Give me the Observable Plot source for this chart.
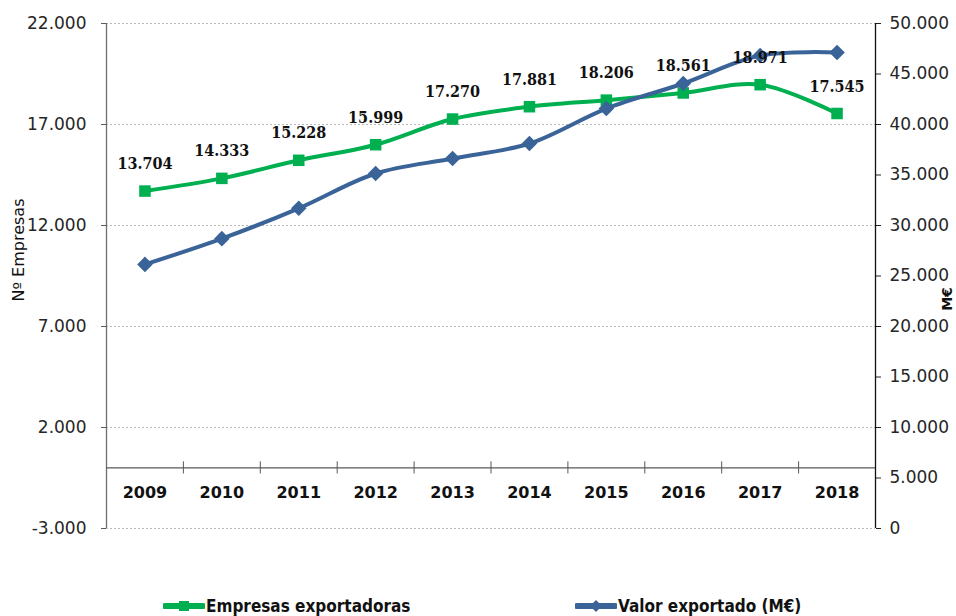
<!DOCTYPE html>
<html><head><meta charset="utf-8">
<script src="https://cdn.jsdelivr.net/npm/d3@7"></script>
<script src="https://cdn.jsdelivr.net/npm/@observablehq/plot@0.6"></script>
<style>
body{margin:0;background:#fff;}
#wrap{position:relative;width:956px;height:616px;overflow:hidden;}
.leg{position:absolute;top:596px;display:flex;align-items:center;font-family:"DejaVu Sans Condensed","DejaVu Sans",sans-serif;font-weight:bold;font-size:17px;color:#111;white-space:nowrap;}
.leg svg{margin-right:1px;}
</style></head><body><div id="wrap"><div id="chart"></div></div>
<script>
const years = ["2009","2010","2011","2012","2013","2014","2015","2016","2017","2018"];
const empresas = [13704,14333,15228,15999,17270,17881,18206,18561,18971,17545];
const valor = [26150,28700,31700,35150,36630,38120,41580,44060,46830,47130];
const leftTicks = [-3000,2000,7000,12000,17000,22000];
const rightTicks = [0,5000,10000,15000,20000,25000,30000,35000,40000,45000,50000];
const seriesNames = ["Empresas exportadoras","Valor exportado (M€)"];
const colors = ["#00B050","#3A6398"];

const fmt = d3.formatLocale({decimal:",", thousands:".", grouping:[3], currency:["","€"], minus:"-"}).format(",d");
const toLeft = v => v/2 - 3000;
const fromLeft = v => (v + 3000)*2;
const rows = years.map((y,i)=>({i, year:y, emp:empresas[i], val:valor[i]}));
const bounds = years.slice(1).map((y,i)=>i+0.5);
const curve = "catmull-rom";

const chart = Plot.plot({
  width:956, height:585,
  marginLeft:106, marginRight:81, marginTop:23, marginBottom:57,
  x:{domain:[-0.5,9.5], axis:null},
  y:{domain:[-3000,22000], axis:null},
  style:{fontFamily:"DejaVu Sans, sans-serif", fontSize:"17px", color:"#262626", background:"#fff"},
  marks:[
    Plot.gridY(leftTicks, {stroke:"#b8b8b8", strokeOpacity:1, strokeDasharray:"2,2"}),
    Plot.axisY(leftTicks, {anchor:"left", tickFormat:fmt, tickSize:5, tickPadding:15, stroke:"#595959", label:null, fontSize:17}),
    Plot.axisY(rightTicks.map(toLeft), {anchor:"right", tickFormat:d=>fmt(fromLeft(d)), tickSize:5, tickPadding:9, stroke:"#222", label:null, fontSize:17}),
    Plot.ruleX([-0.5], {stroke:"#6e6e6e", strokeWidth:1.3}),
    Plot.ruleX([9.5], {stroke:"#111", strokeWidth:1.3}),
    Plot.ruleY([0], {stroke:"#595959", strokeWidth:1.3}),
    Plot.ruleX(bounds, {x:d=>d, y1:-300, y2:300, stroke:"#595959"}),
    Plot.text(rows, {x:"i", y:0, text:"year", dy:25, fontWeight:"bold", fontSize:16, fill:"#111"}),
    Plot.text(["Nº Empresas"], {frameAnchor:"left", textAnchor:"middle", rotate:-90, dx:-88, dy:-26, fontSize:16, fill:"#111"}),
    Plot.text(["M€"], {frameAnchor:"right", textAnchor:"middle", rotate:-90, dx:72, dy:23, fontSize:14, fontWeight:"bold", fill:"#111"}),
    Plot.line(rows, {x:"i", y:"emp", stroke:colors[0], strokeWidth:4, curve}),
    Plot.dot(rows, {x:"i", y:"emp", symbol:"square", r:6.5, fill:colors[0], stroke:"none"}),
    Plot.line(rows, {x:"i", y:d=>toLeft(d.val), stroke:colors[1], strokeWidth:4, curve}),
    Plot.dot(rows, {x:"i", y:d=>toLeft(d.val), symbol:"diamond2", r:7, fill:colors[1], stroke:"none"}),
    Plot.text(rows, {x:"i", y:"emp", text:d=>fmt(d.emp), dy:-27, fontWeight:"bold", fontSize:16, fontFamily:"'DejaVu Serif Condensed','DejaVu Serif',serif", fill:"#111"})
  ]
});
document.getElementById("chart").appendChild(chart);

function legItem(name, color, sym, left){
  const d = document.createElement("div");
  d.className = "leg";
  d.style.left = left + "px";
  const marker = sym === "square"
    ? `<rect x="16" y="5" width="10" height="10" fill="${color}"/>`
    : `<path d="M21,4 L27,10 L21,16 L15,10 Z" fill="${color}"/>`;
  d.innerHTML = `<svg width="42" height="20"><line x1="2" y1="10" x2="40" y2="10" stroke="${color}" stroke-width="6" stroke-linecap="round"/>${marker}</svg><span>${name}</span>`;
  document.getElementById("wrap").appendChild(d);
}
legItem(seriesNames[0], colors[0], "square", 163);
legItem(seriesNames[1], colors[1], "diamond", 575);
</script></body></html>
